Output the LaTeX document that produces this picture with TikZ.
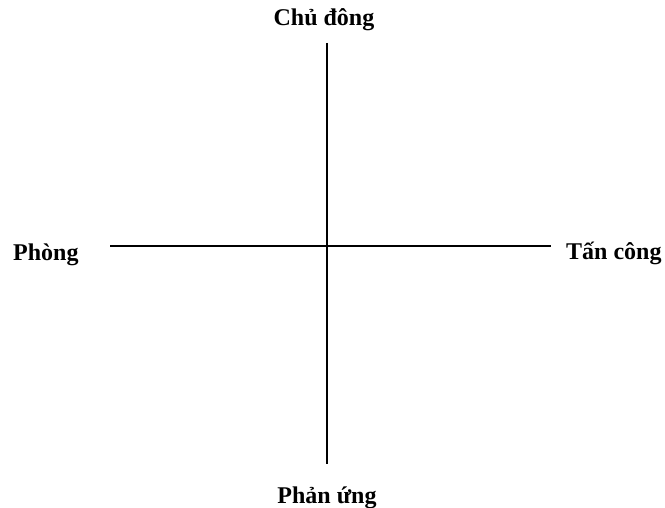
\documentclass[tikz,border=0pt]{standalone}
\usepackage{fontspec}
\setmainfont{Liberation Serif}
\usepackage{tikz}
\usetikzlibrary{positioning}

\tikzset{
    axis line/.style={line width=2pt, black},
    pole label/.style={inner sep=0pt, font=\bfseries\fontsize{24}{28}\selectfont}
}

\begin{document}
\begin{tikzpicture}[x=1pt, y=1pt]
    \useasboundingbox (0, 0) rectangle (665, 507);
    % hai trục
    \coordinate (top) at (327, 464);
    \coordinate (bottom) at (327, 43);
    \coordinate (left) at (110, 261.3);
    \coordinate (right) at (551, 261.3);
    \draw[axis line] (top) -- (bottom);
    \draw[axis line] (left) -- (right);

    % nhãn
    \node[pole label, anchor=base] (chudong) at (324, 481) {Chủ đông};
    \node[pole label, anchor=base] (phanung) at (327, 4) {Phản ứng};
    \node[pole label, anchor=base west] (phong) at (13, 246.5) {Phòng};
    \node[pole label, anchor=base west] (tancong) at (566, 247) {Tấn công};
\end{tikzpicture}
\end{document}
